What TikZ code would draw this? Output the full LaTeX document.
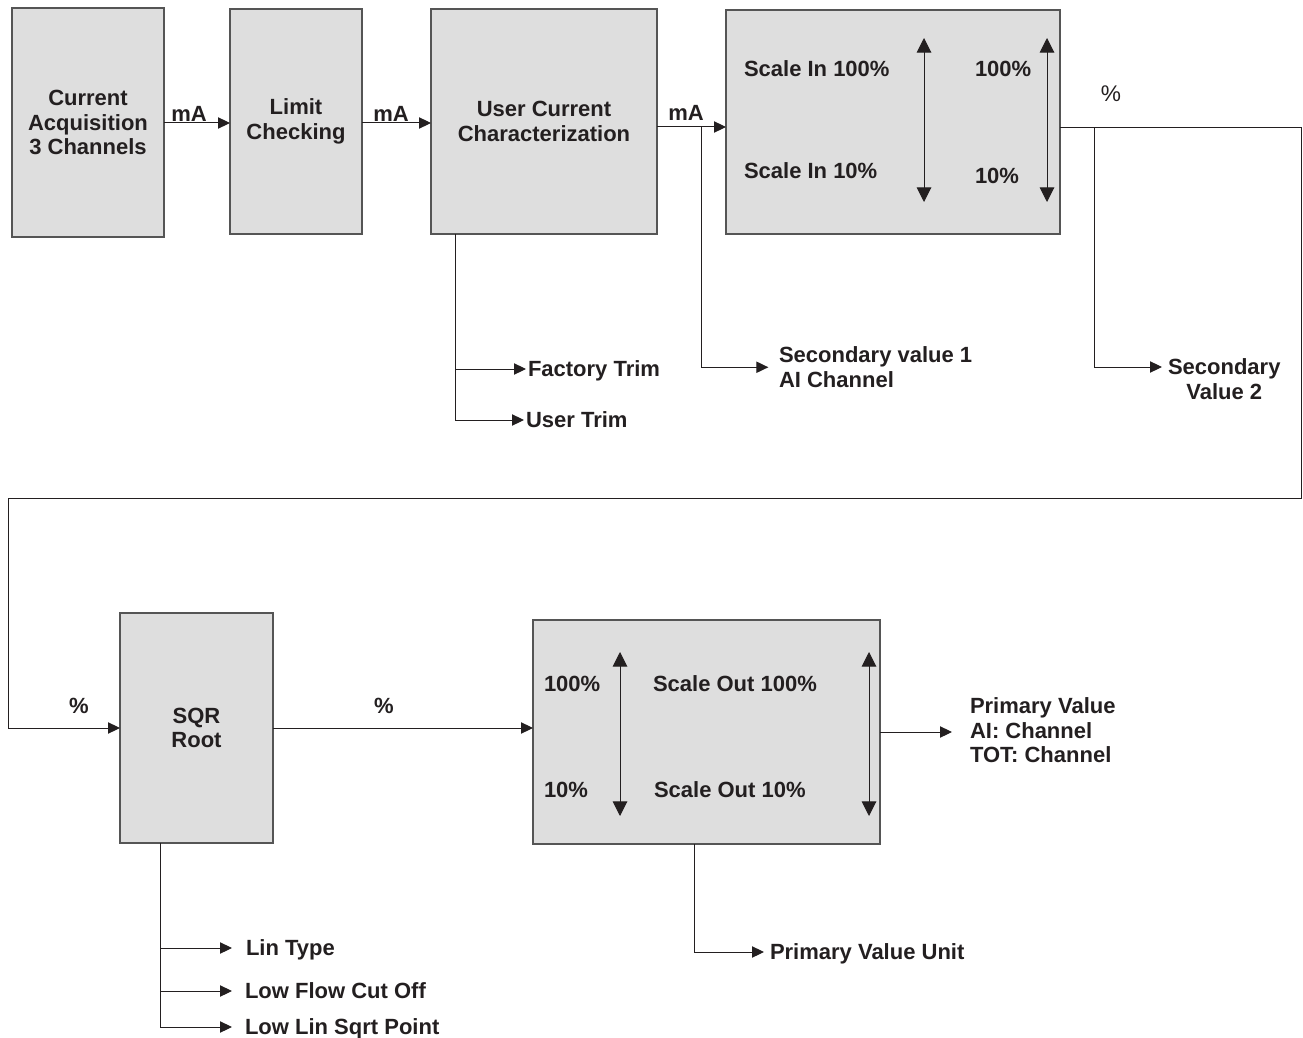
\documentclass[tikz,border=0pt]{standalone}
\usepackage{fontspec}
\setmainfont{Liberation Sans}
\usetikzlibrary{arrows.meta}
\definecolor{boxfill}{HTML}{DEDEDE}
\definecolor{boxline}{HTML}{555555}
\definecolor{ink}{HTML}{231F20}
\begin{document}
\begin{tikzpicture}[x=0.75pt,y=-0.75pt,
  every node/.style={text=ink,font=\fontsize{16.5}{18.4}\selectfont\bfseries,inner sep=0pt,outer sep=0pt},
  box/.style={draw=boxline,fill=boxfill,line width=0.9pt,align=center},
  lbl/.style={anchor=west,text height=11.9pt,text depth=0pt},
  clbl/.style={anchor=center,text height=11.9pt,text depth=0pt},
  multi/.style={anchor=west,align=left},
  conn/.style={draw=ink,line width=0.75pt},
  arr/.style={conn,-{Triangle[length=9pt,width=8.5pt]}},
  darr/.style={conn,{Triangle[length=11pt,width=11pt]}-{Triangle[length=11pt,width=11pt]}}]
\useasboundingbox (0,0) rectangle (1303,1038);

% boxes
\node[box,minimum width=114pt,minimum height=171.75pt] (acq) at (88,122.5) {Current\\Acquisition\\3 Channels};
\node[box,minimum width=99pt,minimum height=168.75pt] (lim) at (296,121.5) {Limit\\Checking};
\node[box,minimum width=169.5pt,minimum height=168.75pt] (ucc) at (544,121.5) {User Current\\Characterization};
\node[box,minimum width=250.5pt,minimum height=168pt] (sin) at (893,122) {};
\node[box,minimum width=114.75pt,minimum height=172.5pt] (sqr) at (196.5,728) {SQR\\Root};
\node[box,minimum width=260.25pt,minimum height=168pt] (sout) at (706.5,732) {};

% texts inside scale in
\node[lbl] (si100) at (744,69) {Scale In 100\%};
\node[lbl] (si10) at (744,171) {Scale In 10\%};
\node[lbl] (p100) at (975,69) {100\%};
\node[lbl] (p10) at (975,176) {10\%};
\draw[darr] (924,38) -- (924,202);
\draw[darr] (1047,38) -- (1047,202);

% texts inside scale out
\node[lbl] (q100) at (544,684) {100\%};
\node[lbl] (q10) at (544,790) {10\%};
\node[lbl] (so100) at (653,684) {Scale Out 100\%};
\node[lbl] (so10) at (654,790) {Scale Out 10\%};
\draw[darr] (620,652) -- (620,816);
\draw[darr] (869,652) -- (869,816);

% labels
\node[clbl] (ma1) at (189,114) {mA};
\node[clbl] (ma2) at (391,114) {mA};
\node[clbl] (ma3) at (686,113) {mA};
\node[clbl,font=\fontsize{17}{18.4}\selectfont\mdseries] (pct0) at (1111,94) {\%};
\node[clbl] (pct1) at (79,706) {\%};
\node[clbl] (pct2) at (384,706) {\%};

\node[lbl] (ft) at (528,369) {Factory Trim};
\node[lbl] (ut) at (526,420) {User Trim};
\node[multi] (sv1) at (779,367.25) {Secondary value 1\\AI Channel};
\node[anchor=west,align=center] (sv2) at (1168,379.25) {Secondary\\Value 2};
\node[multi] (pv) at (970,730.5) {Primary Value\\AI: Channel\\TOT: Channel};
\node[lbl] (pvu) at (770,952) {Primary Value Unit};
\node[lbl] (lt) at (246,948) {Lin Type};
\node[lbl] (lfc) at (245,991) {Low Flow Cut Off};
\node[lbl] (lls) at (245,1027) {Low Lin Sqrt Point};

% main chain
\draw[arr] (acq.east |- 0,123) -- (lim.west |- 0,123);
\draw[arr] (lim.east |- 0,123) -- (ucc.west |- 0,123);
\draw[arr] (ucc.east |- 0,127) -- (sin.west |- 0,127);

% secondary value 1
\coordinate (j1) at (701,127);
\draw[arr] (j1) |- ([xshift=-8pt]sv1.west);

% trims
\coordinate (j2) at ([xshift=18pt]ucc.south west);
\draw[conn] (j2) -- (j2 |- ut.west);
\draw[arr] (j2 |- ft.west) -- ([xshift=-1.5pt]ft.west);
\draw[arr] (j2 |- ut.west) -- ([xshift=-1.5pt]ut.west);

% loop to SQR root
\coordinate (c1) at (1301,128);
\coordinate (c2) at (1301,498);
\coordinate (c3) at (8,498);
\coordinate (c4) at (8,728);
\draw[arr] (sin.east |- c1) -- (c1) -- (c2) -- (c3) -- (c4) -- (sqr.west |- c4);

% secondary value 2
\coordinate (j5) at (1094,128);
\coordinate (sv2in) at ([xshift=-4.5pt]sv2.west);
\draw[arr] (j5) |- (sv2in |- 0,367);

% SQR -> scale out
\draw[arr] (sqr.east |- 0,728) -- (sout.west |- 0,728);

% primary value
\draw[arr] (sout.east) -- ([xshift=-13.5pt]pv.west |- sout.east);

% primary value unit
\coordinate (j3) at (sout.south -| 694,0);
\draw[arr] (j3) |- ([xshift=-4.5pt]pvu.west);

% SQR options
\coordinate (j4) at (sqr.south -| 160,0);
\draw[conn] (j4) -- (j4 |- 0,1028);
\draw[arr] (j4 |- lt.west) -- ([xshift=-10.5pt]lt.west);
\draw[arr] (j4 |- lfc.west) -- ([xshift=-9.75pt]lfc.west);
\draw[arr] (j4 |- lls.west) -- ([xshift=-9.75pt]lls.west);
\end{tikzpicture}
\end{document}
